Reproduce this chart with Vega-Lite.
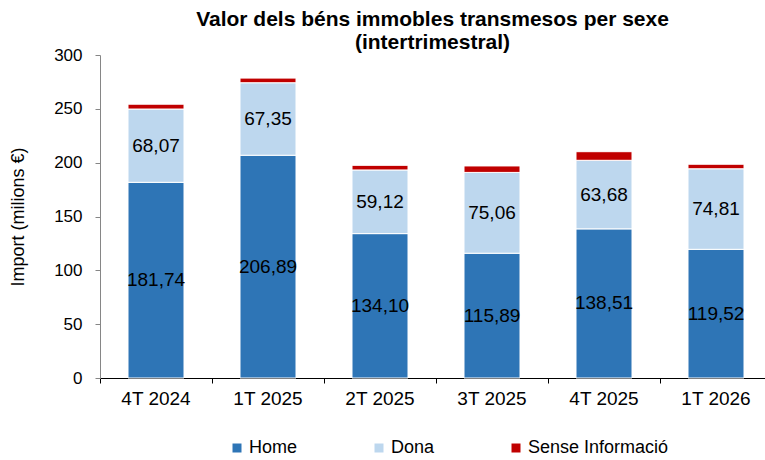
{
  "$schema": "https://vega.github.io/schema/vega-lite/v6.json",
  "width": 665,
  "height": 323,
  "autosize": {"type": "none"},
  "padding": {"left": 100, "top": 55, "right": 0, "bottom": 82},
  "title": {
    "text": ["Valor dels béns immobles transmesos  per sexe", "(intertrimestral)"],
    "font": "Liberation Sans",
    "fontSize": 21,
    "fontWeight": "bold",
    "color": "#000000",
    "lineHeight": 23,
    "anchor": "middle",
    "offset": 1,
    "dy": 8
  },
  "data": {
    "values": [
      {"trimestre": "4T 2024", "sexe": "Home", "import": 181.74},
      {"trimestre": "4T 2024", "sexe": "Dona", "import": 68.07},
      {"trimestre": "4T 2024", "sexe": "Sense Informació", "import": 4.5},
      {"trimestre": "1T 2025", "sexe": "Home", "import": 206.89},
      {"trimestre": "1T 2025", "sexe": "Dona", "import": 67.35},
      {"trimestre": "1T 2025", "sexe": "Sense Informació", "import": 4.3},
      {"trimestre": "2T 2025", "sexe": "Home", "import": 134.10},
      {"trimestre": "2T 2025", "sexe": "Dona", "import": 59.12},
      {"trimestre": "2T 2025", "sexe": "Sense Informació", "import": 4.3},
      {"trimestre": "3T 2025", "sexe": "Home", "import": 115.89},
      {"trimestre": "3T 2025", "sexe": "Dona", "import": 75.06},
      {"trimestre": "3T 2025", "sexe": "Sense Informació", "import": 6.0},
      {"trimestre": "4T 2025", "sexe": "Home", "import": 138.51},
      {"trimestre": "4T 2025", "sexe": "Dona", "import": 63.68},
      {"trimestre": "4T 2025", "sexe": "Sense Informació", "import": 8.0},
      {"trimestre": "1T 2026", "sexe": "Home", "import": 119.52},
      {"trimestre": "1T 2026", "sexe": "Dona", "import": 74.81},
      {"trimestre": "1T 2026", "sexe": "Sense Informació", "import": 4.2}
    ]
  },
  "transform": [
    {"calculate": "indexof(['Home','Dona','Sense Informació'], datum.sexe)", "as": "ordre"},
    {"stack": "import", "groupby": ["trimestre"], "sort": [{"field": "ordre", "order": "ascending"}], "as": ["y0", "y1"]},
    {"calculate": "(datum.y0 + datum.y1) / 2", "as": "ymid"}
  ],
  "encoding": {
    "x": {
      "field": "trimestre",
      "type": "nominal",
      "sort": ["4T 2024", "1T 2025", "2T 2025", "3T 2025", "4T 2025", "1T 2026"],
      "scale": {"paddingInner": 0, "paddingOuter": 0, "range": [0, 672]},
      "axis": {
        "title": null,
        "labelAngle": 0,
        "labelFont": "Liberation Sans",
        "labelFontSize": 19,
        "labelColor": "#000000",
        "labelPadding": 6,
        "domainColor": "#000000",
        "tickColor": "#000000",
        "tickSize": 5,
        "bandPosition": 0,
        "grid": false
      }
    }
  },
  "layer": [
    {
      "mark": {"type": "bar", "width": {"band": 0.5}, "stroke": "#ffffff", "strokeWidth": 1},
      "encoding": {
        "y": {
          "field": "y0",
          "type": "quantitative",
          "scale": {"domain": [0, 300], "nice": false},
          "axis": {
            "title": "Import (milions €)",
            "titleFont": "Liberation Sans",
            "titleFontSize": 18,
            "titleFontWeight": "normal",
            "titleColor": "#000000",
            "titlePadding": 26,
            "values": [0, 50, 100, 150, 200, 250, 300],
            "labelFont": "Liberation Sans",
            "labelFontSize": 17,
            "labelColor": "#000000",
            "labelPadding": 13,
            "domainColor": "#868686",
            "tickColor": "#868686",
            "tickSize": 5,
            "grid": false
          }
        },
        "y2": {"field": "y1"},
        "color": {
          "field": "sexe",
          "type": "nominal",
          "scale": {"domain": ["Home", "Dona", "Sense Informació"], "range": ["#2E75B6", "#BDD7EE", "#C00000"]},
          "legend": {
            "title": null,
            "orient": "none",
            "direction": "horizontal",
            "legendX": 128,
            "legendY": 384,
            "symbolType": "square",
            "symbolSize": 81,
            "symbolStrokeWidth": 0,
            "symbolOffset": 0,
            "labelFont": "Liberation Sans",
            "labelFontSize": 18,
            "labelColor": "#000000",
            "labelOffset": 3,
            "columnPadding": 72
          }
        }
      }
    },
    {
      "transform": [{"filter": "datum.sexe !== 'Sense Informació'"}],
      "mark": {"type": "text", "font": "Liberation Sans", "fontSize": 19, "color": "#000000", "baseline": "middle", "align": "center"},
      "encoding": {
        "y": {"field": "ymid", "type": "quantitative"},
        "text": {"field": "import", "type": "quantitative", "format": ".2f"}
      }
    }
  ],
  "config": {
    "view": {"stroke": null},
    "locale": {"number": {"decimal": ",", "thousands": ".", "grouping": [3], "currency": ["", " €"]}}
  }
}
